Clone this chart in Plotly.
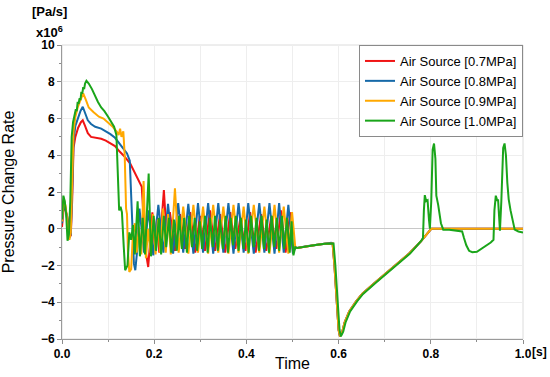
import plotly.graph_objects as go

# ---------------- data (time [s], pressure change rate [x10^6 Pa/s]) ----------------
series_names = ["Air Source [0.7MPa]", "Air Source [0.8MPa]", "Air Source [0.9MPa]", "Air Source [1.0MPa]"]
series_colors = ["#f01414", "#1669a8", "#ffa800", "#1aa51a"]

red_t = [0, 0.004, 0.008, 0.012, 0.016, 0.019, 0.022, 0.025, 0.029, 0.035, 0.041, 0.045, 0.05, 0.056, 0.063,
         0.072, 0.085, 0.095, 0.105, 0.115, 0.125, 0.135, 0.148, 0.16, 0.173, 0.176, 0.18, 0.187, 0.192, 0.196,
         0.201, 0.206, 0.211, 0.216, 0.221, 0.226, 0.234, 0.245, 0.256, 0.267, 0.278, 0.289, 0.299, 0.310,
         0.321, 0.332, 0.343, 0.354, 0.365, 0.376, 0.387, 0.398, 0.408, 0.420, 0.432, 0.443, 0.454, 0.465,
         0.475, 0.485, 0.495, 0.501]
red_v = [0.1, 1.2, 1.0, 0.6, -0.3, -0.4, 1.5, 4.4, 5.0, 5.5, 5.8, 5.9, 5.6, 5.2, 5.0,
         4.95, 4.9, 4.8, 4.65, 4.5, 4.2, 3.95, 3.55, 2.9, 2.28, 1.0, -1.0, -2.08, -0.3, 0.9,
         -1.0, 0.6, -1.3, 0.4, 2.1, 0.0, 0.9, -1.2, 0.8, -1.1, 0.9, -1.3, 0.7, -1.2,
         1.0, -1.2, 0.8, -1.3, 0.9, -1.1, 0.6, -1.2, 0.9, -1.3, 0.8, -1.2, 0.7, -1.1,
         1.0, -1.3, 0.9, -1.3]

blue_t = [0, 0.004, 0.008, 0.012, 0.016, 0.019, 0.022, 0.025, 0.029, 0.034, 0.04, 0.045, 0.05, 0.056, 0.063,
          0.072, 0.085, 0.095, 0.105, 0.115, 0.125, 0.135, 0.141, 0.147, 0.150, 0.153, 0.156, 0.159, 0.163,
          0.168, 0.178, 0.188, 0.198, 0.209, 0.220, 0.230, 0.241, 0.252, 0.263, 0.274, 0.285, 0.295, 0.306,
          0.317, 0.328, 0.339, 0.350, 0.361, 0.372, 0.383, 0.394, 0.404, 0.416, 0.428, 0.439, 0.450, 0.461,
          0.471, 0.481, 0.491, 0.501]
blue_v = [0.3, 1.5, 1.0, 0.4, -0.5, -0.3, 2.0, 4.8, 5.6, 6.0, 6.4, 6.64, 6.3, 5.9, 5.7,
          5.55, 5.45, 5.3, 5.15, 4.95, 4.6, 4.3, 4.1, 3.7, 1.5, -0.5, -1.9, -2.26, -1.2,
          1.1, -1.3, 1.0, -1.45, 1.3, -1.3, 1.35, -1.35, 1.4, -1.3, 1.35, -1.35, 1.4, -1.3,
          1.4, -1.35, 1.4, -1.3, 1.4, -1.35, 1.4, -1.3, 1.4, -1.35, 1.4, -1.3, 1.4, -1.35,
          1.4, -1.3, 1.3, -1.35]

orange_t = [0, 0.004, 0.008, 0.012, 0.016, 0.019, 0.022, 0.025, 0.029, 0.034, 0.04, 0.046, 0.052, 0.058,
            0.068, 0.08, 0.09, 0.1, 0.11, 0.119, 0.123, 0.126, 0.129, 0.133, 0.136, 0.139, 0.141, 0.143,
            0.146, 0.150, 0.154, 0.158, 0.162, 0.167, 0.172, 0.177, 0.182, 0.187, 0.192, 0.197, 0.203,
            0.208, 0.213, 0.219, 0.225, 0.230, 0.236, 0.245, 0.253, 0.263, 0.274, 0.285, 0.295, 0.306,
            0.317, 0.328, 0.339, 0.350, 0.361, 0.372, 0.383, 0.394, 0.404, 0.416, 0.428, 0.439, 0.450,
            0.461, 0.471, 0.481, 0.491, 0.499]
orange_v = [0.4, 1.6, 1.2, 0.2, -0.6, -0.2, 2.5, 5.3, 6.1, 6.6, 7.0, 7.37, 7.0, 6.6,
            6.35, 6.1, 6.0, 5.8, 5.55, 5.28, 5.1, 5.45, 5.0, 5.3, 4.0, 1.1, 0.8, -1.2,
            -2.35, -2.2, -0.2, 0.3, -1.3, 0.1, -1.4, 2.6, -1.6, 0.0, -1.3, 0.8, -1.4,
            0.5, -1.3, 1.1, -1.3, 0.8, -1.4, 2.2, -1.3, 1.2, -1.35, 1.3, -1.3, 1.2,
            -1.35, 1.3, -1.3, 1.2, -1.35, 1.3, -1.3, 1.2, -1.35, 1.3, -1.3, 1.2, -1.35,
            1.3, -1.3, 1.2, -1.35, 0.9]

green_t = [0, 0.003, 0.006, 0.009, 0.012, 0.015, 0.018, 0.021, 0.024, 0.027, 0.030, 0.032, 0.034, 0.036,
           0.038, 0.040, 0.042, 0.044, 0.046, 0.048, 0.050, 0.053, 0.058, 0.065, 0.072, 0.078, 0.085, 0.092,
           0.1, 0.108, 0.113, 0.118, 0.121, 0.124, 0.127, 0.130, 0.134, 0.137, 0.142, 0.146, 0.150, 0.154,
           0.158, 0.164, 0.169, 0.175, 0.180, 0.188, 0.193, 0.199, 0.204, 0.210, 0.215, 0.221, 0.226, 0.232,
           0.237, 0.243, 0.249, 0.254, 0.260, 0.265, 0.271, 0.276, 0.282, 0.288, 0.293, 0.299, 0.304, 0.310,
           0.316, 0.321, 0.327, 0.332, 0.338, 0.343, 0.349, 0.355, 0.360, 0.366, 0.371, 0.377, 0.383, 0.388,
           0.394, 0.399, 0.405, 0.410, 0.416, 0.422, 0.427, 0.433, 0.438, 0.444, 0.449, 0.455, 0.460, 0.466,
           0.471, 0.477, 0.482, 0.488, 0.494, 0.498, 0.502]
green_v = [0.5, 1.8, 1.5, 0.8, -0.65, -0.3, 1.5, 5.0, 5.8, 6.2, 6.5, 6.4, 6.9, 6.8,
           7.1, 7.0, 7.45, 7.35, 7.7, 7.6, 7.9, 8.05, 7.9, 7.6, 7.2, 6.9, 6.6, 6.4,
           6.1, 5.8, 5.55, 5.1, 3.0, 1.0, 1.2, 0.9, -1.0, -2.26, -2.0, -0.2, -0.6, 0.2,
           -1.4, 1.5, -1.5, 0.6, -1.4, 3.0, -1.5, 0.7, -1.2, 0.6, -1.4, 0.7, -1.0, 0.6,
           -1.3, 0.5, -1.2, 0.7, -1.1, 0.6, -1.3, 0.7, -1.0, 0.6, -1.2, 0.4, -1.1, 0.7,
           -1.3, 0.6, -1.0, 0.7, -1.2, 0.5, -1.1, 0.7, -1.3, 0.6, -0.9, 0.7, -1.2, 0.6,
           -1.1, 0.5, -1.3, 0.7, -1.0, 0.6, -1.2, 0.7, -1.1, 0.5, -1.3, 0.7, -1.0, 0.6,
           -1.2, 0.7, -1.1, 0.6, -1.3, 0.4, -1.45]

# shared tail after the oscillation stage (0.7/0.8/0.9 MPa curves)
tail_t = [0.506, 0.51, 0.53, 0.55, 0.57, 0.584, 0.587, 0.591, 0.596, 0.600, 0.603, 0.608, 0.613, 0.623,
          0.638, 0.651, 0.678, 0.702, 0.728, 0.753, 0.778, 0.801, 1.0]
tail_v = [-1.0, -1.05, -0.95, -0.88, -0.82, -0.77, -0.8, -2.0, -4.0, -5.5, -5.86, -5.6, -5.1, -4.5,
          -3.95, -3.55, -2.95, -2.44, -1.9, -1.35, -0.7, 0.0, 0.0]

green_tail_t = [0.506, 0.51, 0.53, 0.55, 0.57, 0.586, 0.589, 0.593, 0.598, 0.602, 0.605, 0.610, 0.615, 0.625,
                0.640, 0.653, 0.680, 0.704, 0.730, 0.755, 0.780, 0.783, 0.785, 0.787, 0.790, 0.793, 0.796,
                0.798, 0.801, 0.804, 0.807, 0.810, 0.812, 0.816, 0.822, 0.827, 0.84, 0.86, 0.868, 0.872,
                0.877, 0.883, 0.89, 0.9, 0.915, 0.93, 0.936, 0.938, 0.941, 0.944, 0.946, 0.948, 0.950,
                0.953, 0.957, 0.960, 0.963, 0.966, 0.969, 0.973, 0.978, 0.982, 0.99, 1.0]
green_tail_v = [-1.0, -1.05, -0.95, -0.88, -0.82, -0.77, -0.8, -2.0, -4.0, -5.5, -5.86, -5.6, -5.1, -4.5,
                -3.95, -3.55, -2.95, -2.44, -1.9, -1.35, -0.63, -0.5, 1.0, 1.83, 1.5, 1.55, 0.5,
                0.0, 1.5, 4.3, 4.64, 3.8, 1.8, 1.3, 0.3, -0.05, -0.05, -0.1, -0.15, -0.5,
                -0.9, -1.2, -1.28, -1.25, -1.0, -0.75, -0.6, 1.0, 1.8, 1.55, 1.55, 0.5, -0.1,
                1.5, 4.4, 4.64, 4.0, 2.5, 1.6, 1.0, 0.3, -0.05, -0.15, -0.2]

x_tick_vals = [0.0, 0.2, 0.4, 0.6, 0.8, 1.0]
x_tick_text = ["0.0", "0.2", "0.4", "0.6", "0.8", "1.0"]
y_tick_vals = [-6, -4, -2, 0, 2, 4, 6, 8, 10]

series_t = [red_t + tail_t, blue_t + tail_t, orange_t + tail_t, green_t + green_tail_t]
series_v = [red_v + tail_v, blue_v + tail_v, orange_v + tail_v, green_v + green_tail_v]

FONT = "Liberation Sans"
fig = go.Figure()
for name, color, t, v in zip(series_names, series_colors, series_t, series_v):
    fig.add_trace(go.Scatter(x=t, y=v, mode="lines", name=name,
                             line=dict(color=color, width=2)))

# light frame on top/right
fig.add_shape(type="rect", xref="paper", yref="paper", x0=0, y0=0, x1=1, y1=1,
              line=dict(color="#dcdcdc", width=1), layer="below")

fig.update_layout(
    width=550, height=377,
    margin=dict(l=62, r=27, t=45, b=38),
    paper_bgcolor="white", plot_bgcolor="white",
    font=dict(family=FONT, color="black"),
    showlegend=True,
    legend=dict(x=1, y=1, xanchor="right", yanchor="top",
                bgcolor="white", bordercolor="#8a8a8a", borderwidth=1,
                font=dict(family=FONT, size=13, color="black"),
                tracegroupgap=0),
    xaxis=dict(range=[0, 1], tickvals=x_tick_vals, ticktext=x_tick_text, automargin=False,
               tickfont=dict(family=FONT, size=12, weight="bold"),
               ticks="outside", ticklen=4, tickcolor="#8c8c8c",
               showline=True, linecolor="#9a9a9a", linewidth=1,
               showgrid=True, gridcolor="#eeeeee", gridwidth=1,
               minor=dict(dtick=0.1, tick0=0, ticks="outside", ticklen=2, tickcolor="#8c8c8c",
                          showgrid=True, gridcolor="#eeeeee"),
               zeroline=False),
    yaxis=dict(range=[-6, 10], tickvals=y_tick_vals, automargin=False,
               tickfont=dict(family=FONT, size=12, weight="bold"),
               ticks="outside", ticklen=4, tickcolor="#8c8c8c",
               showline=True, linecolor="#9a9a9a", linewidth=1,
               showgrid=True, gridcolor="#eeeeee", gridwidth=1,
               minor=dict(dtick=1, tick0=0, ticks="outside", ticklen=2, tickcolor="#8c8c8c", showgrid=False),
               zeroline=True, zerolinecolor="#c8c8c8", zerolinewidth=1,
               title=dict(text="Pressure Change Rate", font=dict(family=FONT, size=16), standoff=23)),
)

# x-axis title placed just under the tick labels
fig.add_annotation(text="Time", xref="paper", yref="paper", x=0.5, y=0, xanchor="center", yanchor="middle",
                   yshift=-24, showarrow=False, font=dict(family=FONT, size=16))
fig.add_annotation(text="[s]", xref="x", yref="paper", x=1.0, y=0, xanchor="left", yanchor="top",
                   xshift=7, yshift=-4, showarrow=False,
                   font=dict(family=FONT, size=12, weight="bold"))
fig.add_annotation(text="[Pa/s]", xref="paper", yref="paper", x=0, y=1, xanchor="left", yanchor="middle",
                   xshift=-32, yshift=34, showarrow=False,
                   font=dict(family=FONT, size=13, weight="bold"))
fig.add_annotation(text="x10<sup>6</sup>", xref="paper", yref="paper", x=0, y=1, xanchor="left", yanchor="middle",
                   xshift=-28, yshift=13, showarrow=False,
                   font=dict(family=FONT, size=13, weight="bold"))

# remove the default 8px page margin so the figure fills the window exactly
fig.write_html("out.html", config={"displayModeBar": False},
               post_script="document.body.style.margin='0';document.body.style.padding='0';")
